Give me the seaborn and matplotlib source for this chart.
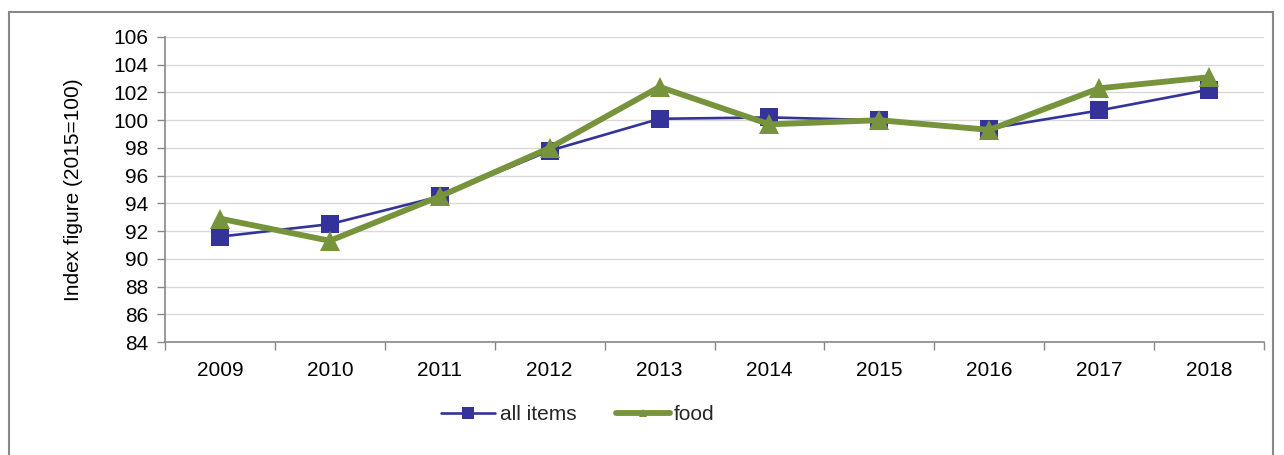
import matplotlib
matplotlib.use("Agg")
import matplotlib.pyplot as plt
import seaborn as sns
import pandas as pd
from matplotlib.patches import Rectangle
from matplotlib.ticker import FixedLocator

years = ["2009", "2010", "2011", "2012", "2013", "2014", "2015", "2016", "2017", "2018"]
all_items = [91.6, 92.5, 94.5, 97.8, 100.1, 100.2, 100.0, 99.4, 100.7, 102.2]
food = [92.9, 91.3, 94.5, 98.0, 102.4, 99.7, 100.0, 99.3, 102.3, 103.1]
y_ticks = list(range(84, 107, 2))

sns.set_theme(style="white")
plt.rcParams['font.family'] = ['Liberation Sans', 'DejaVu Sans']
FS = 15

fig = plt.figure(figsize=(12.84, 4.55), dpi=100)
ax = fig.add_axes([165/1284, 1 - 342/455, (1264-165)/1284, (342-37)/455])

df = pd.DataFrame({"year": years, "all items": all_items, "food": food})
xpos = list(range(len(years)))

sns.lineplot(x=xpos, y=df["all items"], ax=ax, color="#333399", lw=1.9,
             marker="s", markersize=13, markeredgewidth=0, label="all items")
sns.lineplot(x=xpos, y=df["food"], ax=ax, color="#77933C", lw=4.2,
             marker="^", markersize=14, markeredgewidth=0, label="food")

ax.set_xlim(-0.5, len(years) - 0.5)
ax.set_ylim(84, 106)
ax.set_yticks(y_ticks)
ax.set_yticklabels([str(t) for t in y_ticks], fontsize=FS)
ax.set_xticks(xpos)
ax.set_xticklabels(years, fontsize=FS)
ax.xaxis.set_minor_locator(FixedLocator([i - 0.5 for i in range(len(years) + 1)]))
ax.tick_params(axis='x', which='both', bottom=True)
ax.tick_params(axis='y', which='both', left=True)
ax.tick_params(axis='x', which='major', length=0, pad=14, colors='black')
ax.tick_params(axis='x', which='minor', length=6, width=1, color='#888888', direction='out')
ax.tick_params(axis='y', which='major', length=6, width=1, color='#888888', direction='out', pad=6)
for lab in ax.get_xticklabels() + ax.get_yticklabels():
    lab.set_color('black')

ax.yaxis.grid(True, color='#d9d9d9', lw=1)
ax.xaxis.grid(False)
ax.set_axisbelow(True)
for s in ['top', 'right']:
    ax.spines[s].set_visible(False)
for s in ['left', 'bottom']:
    ax.spines[s].set_color('#888888')
    ax.spines[s].set_linewidth(1.2)

ax.set_xlabel("")
ax.set_ylabel("Index figure (2015=100)", fontsize=FS, color='black', labelpad=22)

leg = ax.legend(loc='center', bbox_to_anchor=(578/1284, 1 - 415/455), bbox_transform=fig.transFigure,
                ncol=2, frameon=False, fontsize=FS, handlelength=2.6, handletextpad=0.2,
                columnspacing=1.9)
for h in leg.legend_handles:
    h.set_markersize(8)
leg.legend_handles[1].set_markersize(6)

fig.patches.append(Rectangle((9/1284, -0.1), (1273-9)/1284, 1.1 - 12/455, transform=fig.transFigure,
                             fill=False, edgecolor='#888888', lw=1.5))

fig.savefig("out.png", dpi=100)
